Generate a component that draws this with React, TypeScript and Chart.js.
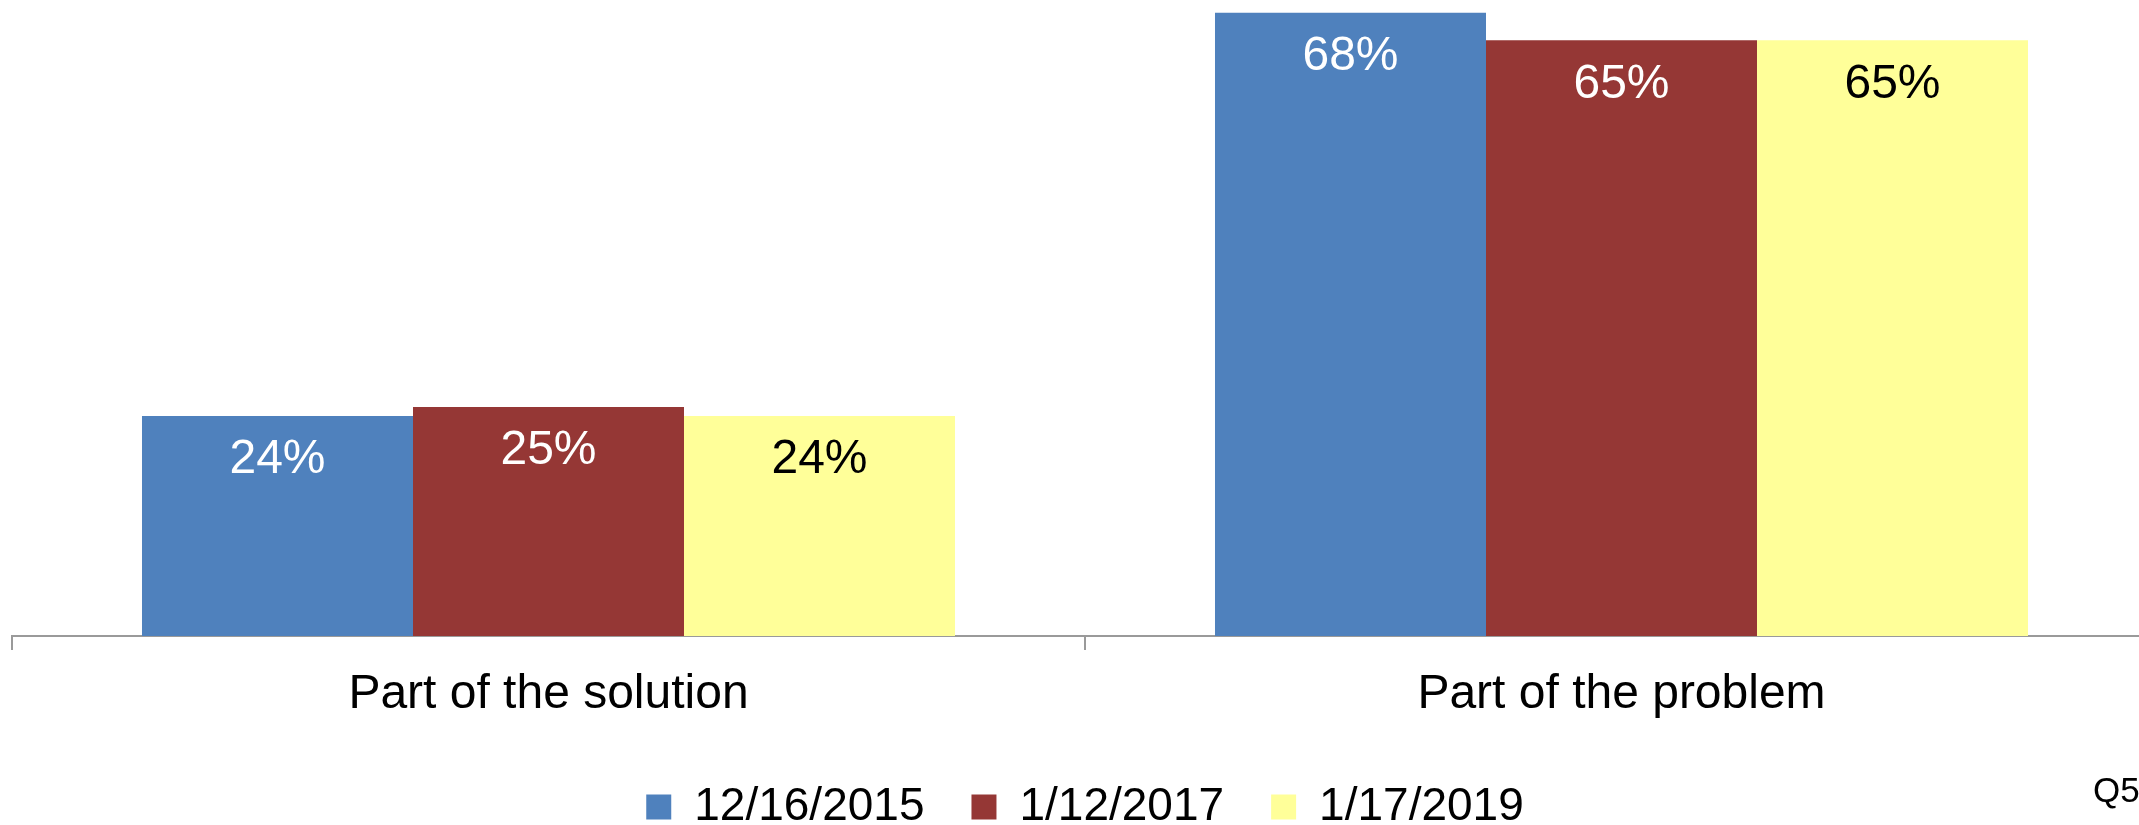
import React, { useEffect, useRef } from "react";
import { Chart, registerables } from "chart.js";

Chart.register(...registerables);

const categories = ["Part of the solution", "Part of the problem"];
const seriesLabels = ["12/16/2015", "1/12/2017", "1/17/2019"];
const series2015 = [24, 68];
const series2017 = [25, 65];
const series2019 = [24, 65];
const seriesColors = ["#4F81BD", "#953735", "#FFFF99"];
const labelColors = ["#FFFFFF", "#FFFFFF", "#000000"];
const footnote = "Q5";

const FONT = "'Liberation Sans', Arial, sans-serif";

const valueLabelPlugin = {
  id: "valueLabels",
  afterDatasetsDraw(chart: any) {
    const ctx = chart.ctx;
    ctx.save();
    ctx.font = `48px ${FONT}`;
    ctx.textAlign = "center";
    ctx.textBaseline = "middle";
    chart.data.datasets.forEach((ds: any, di: number) => {
      const meta = chart.getDatasetMeta(di);
      meta.data.forEach((bar: any, i: number) => {
        ctx.fillStyle = labelColors[di];
        ctx.fillText(`${ds.data[i]}%`, bar.x, bar.y + 44);
      });
    });
    ctx.restore();
  },
};

const footnotePlugin = {
  id: "footnote",
  afterDraw(chart: any) {
    const ctx = chart.ctx;
    ctx.save();
    ctx.font = `35px ${FONT}`;
    ctx.fillStyle = "#000000";
    ctx.textAlign = "left";
    ctx.textBaseline = "alphabetic";
    ctx.fillText(footnote, 2093, 802);
    ctx.restore();
  },
};

export default function App() {
  const ref = useRef<HTMLCanvasElement>(null);
  useEffect(() => {
    if (!ref.current) return;
    const data = [series2015, series2017, series2019];
    const chart = new Chart(ref.current, {
      type: "bar",
      data: {
        labels: categories,
        datasets: seriesLabels.map((label, i) => ({
          label,
          data: data[i],
          backgroundColor: seriesColors[i],
          borderWidth: 0,
          categoryPercentage: 0.7577,
          barPercentage: 1,
        })),
      },
      options: {
        responsive: false,
        animation: false,
        layout: { padding: { left: 12, right: 0, top: 0, bottom: 0 } },
        plugins: {
          legend: {
            position: "bottom",
            labels: {
              boxWidth: 25,
              boxHeight: 25,
              padding: 47,
              color: "#000000",
              font: { size: 46, family: FONT },
            },
          },
          tooltip: { enabled: false },
        },
        scales: {
          x: {
            grid: {
              drawOnChartArea: false,
              color: "#9A9A9A",
              lineWidth: 2,
              tickLength: 14,
              offset: true,
            },
            border: { color: "#9A9A9A", width: 2 },
            ticks: {
              color: "#000000",
              padding: 16,
              font: { size: 48, family: FONT },
            },
            afterFit: (s: any) => {
              s.height = 101;
            },
          },
          y: {
            display: false,
            min: 0,
            max: 69.4,
          },
        },
      },
      plugins: [valueLabelPlugin, footnotePlugin],
    });
    return () => chart.destroy();
  }, []);
  return (
    <div
      style={{
        position: "fixed",
        left: 0,
        top: 0,
        width: 2139,
        height: 825,
        overflow: "hidden",
        background: "#FFFFFF",
      }}
    >
      <canvas ref={ref} width={2158} height={840} />
    </div>
  );
}
